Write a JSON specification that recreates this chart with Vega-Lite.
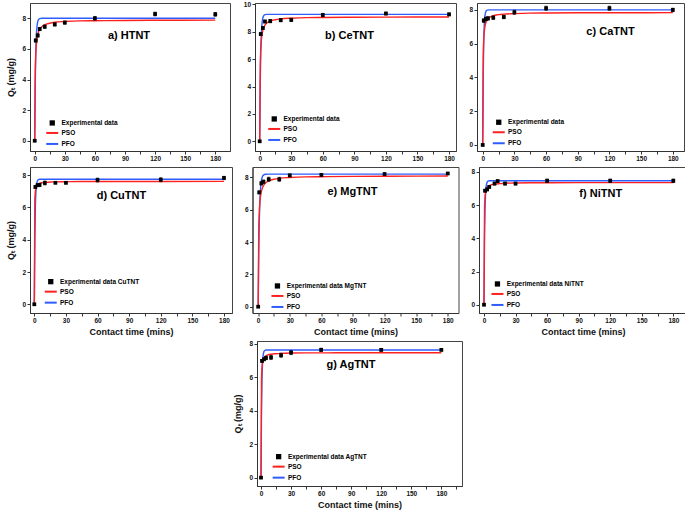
{
 "$schema": "https://vega.github.io/schema/vega-lite/v6.json",
 "background": "white",
 "padding": {"left": 5, "top": 0, "right": 0, "bottom": 0},
 "datasets": {"d": [
  {"p":"a","s":"label","label":"a) HTNT"},{"p":"b","s":"label","label":"b) CeTNT"},{"p":"c","s":"label","label":"c) CaTNT"},{"p":"d","s":"label","label":"d) CuTNT"},{"p":"e","s":"label","label":"e) MgTNT"},{"p":"f","s":"label","label":"f) NiTNT"},{"p":"g","s":"label","label":"g) AgTNT"},
  {"p":"a","s":"Experimental data","t":0,"q":0,"e":0.05},{"p":"a","s":"Experimental data","t":1,"q":6.55,"e":0.1},{"p":"a","s":"Experimental data","t":3,"q":6.88,"e":0.1},{"p":"a","s":"Experimental data","t":5,"q":7.3,"e":0.1},{"p":"a","s":"Experimental data","t":10,"q":7.45,"e":0.1},{"p":"a","s":"Experimental data","t":20,"q":7.6,"e":0.1},{"p":"a","s":"Experimental data","t":30,"q":7.72,"e":0.1},{"p":"a","s":"Experimental data","t":60,"q":8.0,"e":0.12},{"p":"a","s":"Experimental data","t":120,"q":8.28,"e":0.12},{"p":"a","s":"Experimental data","t":180,"q":8.26,"e":0.12},
  {"p":"a","s":"PFO","t":0,"q":0},{"p":"a","s":"PFO","t":0.5,"q":3.61},{"p":"a","s":"PFO","t":1,"q":5.59},{"p":"a","s":"PFO","t":1.5,"q":6.68},{"p":"a","s":"PFO","t":2,"q":7.27},{"p":"a","s":"PFO","t":3,"q":7.78},{"p":"a","s":"PFO","t":4,"q":7.93},{"p":"a","s":"PFO","t":5,"q":7.98},{"p":"a","s":"PFO","t":7,"q":8.0},{"p":"a","s":"PFO","t":10,"q":8.0},{"p":"a","s":"PFO","t":180,"q":8.0},
  {"p":"a","s":"PSO","t":0,"q":0},{"p":"a","s":"PSO","t":0.5,"q":4.28},{"p":"a","s":"PSO","t":1,"q":5.56},{"p":"a","s":"PSO","t":1.5,"q":6.17},{"p":"a","s":"PSO","t":2,"q":6.52},{"p":"a","s":"PSO","t":3,"q":6.93},{"p":"a","s":"PSO","t":4,"q":7.15},{"p":"a","s":"PSO","t":5,"q":7.29},{"p":"a","s":"PSO","t":7,"q":7.45},{"p":"a","s":"PSO","t":10,"q":7.58},{"p":"a","s":"PSO","t":15,"q":7.68},{"p":"a","s":"PSO","t":20,"q":7.74},{"p":"a","s":"PSO","t":30,"q":7.79},{"p":"a","s":"PSO","t":45,"q":7.83},{"p":"a","s":"PSO","t":60,"q":7.84},{"p":"a","s":"PSO","t":90,"q":7.86},{"p":"a","s":"PSO","t":120,"q":7.87},{"p":"a","s":"PSO","t":180,"q":7.88},

  {"p":"b","s":"Experimental data","t":0,"q":0,"e":0.05},{"p":"b","s":"Experimental data","t":1,"q":7.83,"e":0.1},{"p":"b","s":"Experimental data","t":3,"q":8.27,"e":0.1},{"p":"b","s":"Experimental data","t":5,"q":8.75,"e":0.1},{"p":"b","s":"Experimental data","t":10,"q":8.78,"e":0.12},{"p":"b","s":"Experimental data","t":20,"q":8.85,"e":0.12},{"p":"b","s":"Experimental data","t":30,"q":8.87,"e":0.12},{"p":"b","s":"Experimental data","t":60,"q":9.22,"e":0.12},{"p":"b","s":"Experimental data","t":120,"q":9.33,"e":0.1},{"p":"b","s":"Experimental data","t":180,"q":9.27,"e":0.1},
  {"p":"b","s":"PFO","t":0,"q":0},{"p":"b","s":"PFO","t":0.5,"q":4.18},{"p":"b","s":"PFO","t":1,"q":6.48},{"p":"b","s":"PFO","t":1.5,"q":7.74},{"p":"b","s":"PFO","t":2,"q":8.43},{"p":"b","s":"PFO","t":3,"q":9.02},{"p":"b","s":"PFO","t":4,"q":9.19},{"p":"b","s":"PFO","t":5,"q":9.25},{"p":"b","s":"PFO","t":7,"q":9.27},{"p":"b","s":"PFO","t":10,"q":9.27},{"p":"b","s":"PFO","t":180,"q":9.27},
  {"p":"b","s":"PSO","t":0,"q":0},{"p":"b","s":"PSO","t":0.5,"q":5.25},{"p":"b","s":"PSO","t":1,"q":6.66},{"p":"b","s":"PSO","t":1.5,"q":7.31},{"p":"b","s":"PSO","t":2,"q":7.69},{"p":"b","s":"PSO","t":3,"q":8.11},{"p":"b","s":"PSO","t":4,"q":8.34},{"p":"b","s":"PSO","t":5,"q":8.48},{"p":"b","s":"PSO","t":7,"q":8.65},{"p":"b","s":"PSO","t":10,"q":8.78},{"p":"b","s":"PSO","t":15,"q":8.88},{"p":"b","s":"PSO","t":20,"q":8.94},{"p":"b","s":"PSO","t":30,"q":8.99},{"p":"b","s":"PSO","t":45,"q":9.03},{"p":"b","s":"PSO","t":60,"q":9.04},{"p":"b","s":"PSO","t":90,"q":9.06},{"p":"b","s":"PSO","t":120,"q":9.07},{"p":"b","s":"PSO","t":180,"q":9.08},

  {"p":"c","s":"Experimental data","t":0,"q":0,"e":0.05},{"p":"c","s":"Experimental data","t":1,"q":7.37,"e":0.1},{"p":"c","s":"Experimental data","t":3,"q":7.47,"e":0.1},{"p":"c","s":"Experimental data","t":5,"q":7.5,"e":0.1},{"p":"c","s":"Experimental data","t":10,"q":7.54,"e":0.1},{"p":"c","s":"Experimental data","t":20,"q":7.58,"e":0.1},{"p":"c","s":"Experimental data","t":30,"q":7.86,"e":0.12},{"p":"c","s":"Experimental data","t":60,"q":8.1,"e":0.12},{"p":"c","s":"Experimental data","t":120,"q":8.1,"e":0.12},{"p":"c","s":"Experimental data","t":180,"q":8.0,"e":0.1},
  {"p":"c","s":"PFO","t":0,"q":0},{"p":"c","s":"PFO","t":0.5,"q":4.22},{"p":"c","s":"PFO","t":1,"q":6.22},{"p":"c","s":"PFO","t":1.5,"q":7.16},{"p":"c","s":"PFO","t":2,"q":7.6},{"p":"c","s":"PFO","t":3,"q":7.91},{"p":"c","s":"PFO","t":4,"q":7.98},{"p":"c","s":"PFO","t":5,"q":8.0},{"p":"c","s":"PFO","t":7,"q":8.0},{"p":"c","s":"PFO","t":10,"q":8.0},{"p":"c","s":"PFO","t":180,"q":8.0},
  {"p":"c","s":"PSO","t":0,"q":0},{"p":"c","s":"PSO","t":0.5,"q":5.2},{"p":"c","s":"PSO","t":1,"q":6.26},{"p":"c","s":"PSO","t":1.5,"q":6.71},{"p":"c","s":"PSO","t":2,"q":6.96},{"p":"c","s":"PSO","t":3,"q":7.24},{"p":"c","s":"PSO","t":4,"q":7.38},{"p":"c","s":"PSO","t":5,"q":7.47},{"p":"c","s":"PSO","t":7,"q":7.57},{"p":"c","s":"PSO","t":10,"q":7.66},{"p":"c","s":"PSO","t":15,"q":7.72},{"p":"c","s":"PSO","t":20,"q":7.75},{"p":"c","s":"PSO","t":30,"q":7.78},{"p":"c","s":"PSO","t":45,"q":7.81},{"p":"c","s":"PSO","t":60,"q":7.82},{"p":"c","s":"PSO","t":90,"q":7.83},{"p":"c","s":"PSO","t":120,"q":7.83},{"p":"c","s":"PSO","t":180,"q":7.84},

  {"p":"d","s":"Experimental data CuTNT","t":0,"q":0,"e":0.05},{"p":"d","s":"Experimental data CuTNT","t":1,"q":7.27,"e":0.08},{"p":"d","s":"Experimental data CuTNT","t":3,"q":7.38,"e":0.08},{"p":"d","s":"Experimental data CuTNT","t":5,"q":7.4,"e":0.1},{"p":"d","s":"Experimental data CuTNT","t":10,"q":7.52,"e":0.12},{"p":"d","s":"Experimental data CuTNT","t":20,"q":7.53,"e":0.05},{"p":"d","s":"Experimental data CuTNT","t":30,"q":7.53,"e":0.06},{"p":"d","s":"Experimental data CuTNT","t":60,"q":7.7,"e":0.12},{"p":"d","s":"Experimental data CuTNT","t":120,"q":7.72,"e":0.12},{"p":"d","s":"Experimental data CuTNT","t":180,"q":7.83,"e":0.1},
  {"p":"d","s":"PFO","t":0,"q":0},{"p":"d","s":"PFO","t":0.5,"q":4.09},{"p":"d","s":"PFO","t":1,"q":6.02},{"p":"d","s":"PFO","t":1.5,"q":6.93},{"p":"d","s":"PFO","t":2,"q":7.36},{"p":"d","s":"PFO","t":3,"q":7.66},{"p":"d","s":"PFO","t":4,"q":7.73},{"p":"d","s":"PFO","t":5,"q":7.75},{"p":"d","s":"PFO","t":7,"q":7.75},{"p":"d","s":"PFO","t":10,"q":7.75},{"p":"d","s":"PFO","t":180,"q":7.75},
  {"p":"d","s":"PSO","t":0,"q":0},{"p":"d","s":"PSO","t":0.5,"q":6.49},{"p":"d","s":"PSO","t":1,"q":7.01},{"p":"d","s":"PSO","t":1.5,"q":7.2},{"p":"d","s":"PSO","t":2,"q":7.3},{"p":"d","s":"PSO","t":3,"q":7.4},{"p":"d","s":"PSO","t":4,"q":7.46},{"p":"d","s":"PSO","t":5,"q":7.49},{"p":"d","s":"PSO","t":7,"q":7.53},{"p":"d","s":"PSO","t":10,"q":7.55},{"p":"d","s":"PSO","t":15,"q":7.58},{"p":"d","s":"PSO","t":20,"q":7.59},{"p":"d","s":"PSO","t":30,"q":7.6},{"p":"d","s":"PSO","t":45,"q":7.61},{"p":"d","s":"PSO","t":60,"q":7.61},{"p":"d","s":"PSO","t":90,"q":7.61},{"p":"d","s":"PSO","t":120,"q":7.61},{"p":"d","s":"PSO","t":180,"q":7.62},

  {"p":"e","s":"Experimental data MgTNT","t":0,"q":0,"e":0.05},{"p":"e","s":"Experimental data MgTNT","t":1,"q":7.07,"e":0.08},{"p":"e","s":"Experimental data MgTNT","t":3,"q":7.63,"e":0.1},{"p":"e","s":"Experimental data MgTNT","t":5,"q":7.73,"e":0.1},{"p":"e","s":"Experimental data MgTNT","t":10,"q":7.88,"e":0.12},{"p":"e","s":"Experimental data MgTNT","t":20,"q":7.88,"e":0.12},{"p":"e","s":"Experimental data MgTNT","t":30,"q":8.12,"e":0.08},{"p":"e","s":"Experimental data MgTNT","t":60,"q":8.15,"e":0.08},{"p":"e","s":"Experimental data MgTNT","t":120,"q":8.2,"e":0.08},{"p":"e","s":"Experimental data MgTNT","t":180,"q":8.24,"e":0.06},
  {"p":"e","s":"PFO","t":0,"q":0},{"p":"e","s":"PFO","t":0.5,"q":3.23},{"p":"e","s":"PFO","t":1,"q":5.18},{"p":"e","s":"PFO","t":1.5,"q":6.37},{"p":"e","s":"PFO","t":2,"q":7.09},{"p":"e","s":"PFO","t":3,"q":7.79},{"p":"e","s":"PFO","t":4,"q":8.05},{"p":"e","s":"PFO","t":5,"q":8.14},{"p":"e","s":"PFO","t":7,"q":8.19},{"p":"e","s":"PFO","t":10,"q":8.2},{"p":"e","s":"PFO","t":180,"q":8.2},
  {"p":"e","s":"PSO","t":0,"q":0},{"p":"e","s":"PSO","t":0.5,"q":4.44},{"p":"e","s":"PSO","t":1,"q":5.74},{"p":"e","s":"PSO","t":1.5,"q":6.36},{"p":"e","s":"PSO","t":2,"q":6.72},{"p":"e","s":"PSO","t":3,"q":7.12},{"p":"e","s":"PSO","t":4,"q":7.34},{"p":"e","s":"PSO","t":5,"q":7.48},{"p":"e","s":"PSO","t":7,"q":7.65},{"p":"e","s":"PSO","t":10,"q":7.78},{"p":"e","s":"PSO","t":15,"q":7.88},{"p":"e","s":"PSO","t":20,"q":7.94},{"p":"e","s":"PSO","t":30,"q":7.99},{"p":"e","s":"PSO","t":45,"q":8.03},{"p":"e","s":"PSO","t":60,"q":8.04},{"p":"e","s":"PSO","t":90,"q":8.06},{"p":"e","s":"PSO","t":120,"q":8.07},{"p":"e","s":"PSO","t":180,"q":8.08},

  {"p":"f","s":"Experimental data NiTNT","t":0,"q":0,"e":0.05},{"p":"f","s":"Experimental data NiTNT","t":1,"q":6.87,"e":0.08},{"p":"f","s":"Experimental data NiTNT","t":3,"q":6.95,"e":0.08},{"p":"f","s":"Experimental data NiTNT","t":5,"q":7.1,"e":0.08},{"p":"f","s":"Experimental data NiTNT","t":10,"q":7.3,"e":0.08},{"p":"f","s":"Experimental data NiTNT","t":13,"q":7.45,"e":0.08},{"p":"f","s":"Experimental data NiTNT","t":20,"q":7.3,"e":0.08},{"p":"f","s":"Experimental data NiTNT","t":30,"q":7.3,"e":0.08},{"p":"f","s":"Experimental data NiTNT","t":60,"q":7.47,"e":0.1},{"p":"f","s":"Experimental data NiTNT","t":120,"q":7.47,"e":0.1},{"p":"f","s":"Experimental data NiTNT","t":180,"q":7.47,"e":0.1},
  {"p":"f","s":"PFO","t":0,"q":0},{"p":"f","s":"PFO","t":0.5,"q":3.94},{"p":"f","s":"PFO","t":1,"q":5.8},{"p":"f","s":"PFO","t":1.5,"q":6.68},{"p":"f","s":"PFO","t":2,"q":7.1},{"p":"f","s":"PFO","t":3,"q":7.39},{"p":"f","s":"PFO","t":4,"q":7.45},{"p":"f","s":"PFO","t":5,"q":7.47},{"p":"f","s":"PFO","t":7,"q":7.47},{"p":"f","s":"PFO","t":10,"q":7.47},{"p":"f","s":"PFO","t":180,"q":7.47},
  {"p":"f","s":"PSO","t":0,"q":0},{"p":"f","s":"PSO","t":0.5,"q":5.8},{"p":"f","s":"PSO","t":1,"q":6.49},{"p":"f","s":"PSO","t":1.5,"q":6.76},{"p":"f","s":"PSO","t":2,"q":6.9},{"p":"f","s":"PSO","t":3,"q":7.05},{"p":"f","s":"PSO","t":4,"q":7.13},{"p":"f","s":"PSO","t":5,"q":7.18},{"p":"f","s":"PSO","t":7,"q":7.23},{"p":"f","s":"PSO","t":10,"q":7.27},{"p":"f","s":"PSO","t":15,"q":7.3},{"p":"f","s":"PSO","t":20,"q":7.32},{"p":"f","s":"PSO","t":30,"q":7.34},{"p":"f","s":"PSO","t":45,"q":7.35},{"p":"f","s":"PSO","t":60,"q":7.35},{"p":"f","s":"PSO","t":90,"q":7.36},{"p":"f","s":"PSO","t":120,"q":7.36},{"p":"f","s":"PSO","t":180,"q":7.36},

  {"p":"g","s":"Experimental data AgTNT","t":0,"q":0,"e":0.05},{"p":"g","s":"Experimental data AgTNT","t":1,"q":6.97,"e":0.08},{"p":"g","s":"Experimental data AgTNT","t":3,"q":7.07,"e":0.08},{"p":"g","s":"Experimental data AgTNT","t":5,"q":7.15,"e":0.1},{"p":"g","s":"Experimental data AgTNT","t":10,"q":7.18,"e":0.12},{"p":"g","s":"Experimental data AgTNT","t":20,"q":7.31,"e":0.12},{"p":"g","s":"Experimental data AgTNT","t":30,"q":7.47,"e":0.12},{"p":"g","s":"Experimental data AgTNT","t":60,"q":7.63,"e":0.1},{"p":"g","s":"Experimental data AgTNT","t":120,"q":7.63,"e":0.08},{"p":"g","s":"Experimental data AgTNT","t":180,"q":7.63,"e":0.06},
  {"p":"g","s":"PFO","t":0,"q":0},{"p":"g","s":"PFO","t":0.5,"q":4.02},{"p":"g","s":"PFO","t":1,"q":5.92},{"p":"g","s":"PFO","t":1.5,"q":6.82},{"p":"g","s":"PFO","t":2,"q":7.24},{"p":"g","s":"PFO","t":3,"q":7.54},{"p":"g","s":"PFO","t":4,"q":7.6},{"p":"g","s":"PFO","t":5,"q":7.62},{"p":"g","s":"PFO","t":7,"q":7.62},{"p":"g","s":"PFO","t":10,"q":7.62},{"p":"g","s":"PFO","t":180,"q":7.62},
  {"p":"g","s":"PSO","t":0,"q":0},{"p":"g","s":"PSO","t":0.5,"q":5.89},{"p":"g","s":"PSO","t":1,"q":6.59},{"p":"g","s":"PSO","t":1.5,"q":6.86},{"p":"g","s":"PSO","t":2,"q":7.0},{"p":"g","s":"PSO","t":3,"q":7.15},{"p":"g","s":"PSO","t":4,"q":7.23},{"p":"g","s":"PSO","t":5,"q":7.28},{"p":"g","s":"PSO","t":7,"q":7.33},{"p":"g","s":"PSO","t":10,"q":7.37},{"p":"g","s":"PSO","t":15,"q":7.4},{"p":"g","s":"PSO","t":20,"q":7.42},{"p":"g","s":"PSO","t":30,"q":7.44},{"p":"g","s":"PSO","t":45,"q":7.45},{"p":"g","s":"PSO","t":60,"q":7.45},{"p":"g","s":"PSO","t":90,"q":7.46},{"p":"g","s":"PSO","t":120,"q":7.46},{"p":"g","s":"PSO","t":180,"q":7.46}
 ]},
 "spacing": 3,
 "resolve": {"scale": {"color": "independent"}, "legend": {"color": "independent"}},
 "vconcat": [
  {"hconcat": [
   {"width": 200, "height": 148, "data": {"name": "d"},
    "layer": [
     {"encoding": {
       "x": {"field": "t", "type": "quantitative", "scale": {"domain": [-4.7, 194.7], "nice": false, "zero": false}, "axis": {"values": [0,15,30,45,60,75,90,105,120,135,150,165,180], "title": null}},
       "y": {"field": "q", "type": "quantitative", "scale": {"domain": [-0.67, 9.0], "nice": false, "zero": false}, "axis": {"values": [0,2,4,6,8], "title": "Qₜ (mg/g)", "minExtent": 12, "maxExtent": 12}}},
      "layer": [
       {"transform": [{"filter": "datum.p=='a' && (datum.s=='PSO' || datum.s=='PFO')"}],
        "mark": {"type": "line", "strokeWidth": 1.4, "interpolate": "monotone", "clip": true},
        "encoding": {"color": {"field": "s", "type": "nominal", "scale": {"domain": ["Experimental data","PSO","PFO"], "range": ["#000000","#ff2020","#2f5cff"]},
          "legend": {"orient": "none", "legendX": 19, "legendY": 116.7, "title": null, "encode": {"symbols": {"update": {"shape": {"signal": "datum.value=='PSO'||datum.value=='PFO' ? 'stroke' : 'square'"}, "size": {"signal": "datum.value=='PSO'||datum.value=='PFO' ? 144 : 28"}, "fill": {"signal": "datum.value=='PSO'||datum.value=='PFO' ? 'transparent' : '#000'"}, "stroke": {"signal": "datum.value=='PSO' ? '#ff2020' : datum.value=='PFO' ? '#2f5cff' : '#000'"}, "strokeWidth": {"signal": "datum.value=='PSO'||datum.value=='PFO' ? 2 : 0"}, "opacity": {"value": 1}}}}}}}},
       {"transform": [{"filter": "datum.p=='a' && indexof(datum.s,'Experimental')==0"}],
        "mark": {"type": "errorbar", "color": "#000", "ticks": {"size": 3}},
        "encoding": {"yError": {"field": "e"}}},
       {"transform": [{"filter": "datum.p=='a' && indexof(datum.s,'Experimental')==0"}],
        "mark": {"type": "point", "shape": "square", "filled": true, "size": 14, "opacity": 1},
        "encoding": {"color": {"field": "s", "type": "nominal"}}}
      ]},
     {"transform": [{"filter": "datum.p=='a' && datum.s=='label'"}],
      "mark": {"type": "text", "fontSize": 11, "fontWeight": "bold", "color": "#000"},
      "encoding": {"text": {"field": "label"},
       "x": {"datum": 94, "type": "quantitative", "scale": {"domain": [-4.7, 194.7], "nice": false, "zero": false}, "axis": {"values": [0,15,30,45,60,75,90,105,120,135,150,165,180], "title": null}},
       "y": {"datum": 6.84, "type": "quantitative", "scale": {"domain": [-0.67, 9.0], "nice": false, "zero": false}, "axis": {"values": [0,2,4,6,8], "title": "Qₜ (mg/g)", "minExtent": 12, "maxExtent": 12}}}}
    ]},
   {"width": 201, "height": 148, "data": {"name": "d"},
    "layer": [
     {"encoding": {
       "x": {"field": "t", "type": "quantitative", "scale": {"domain": [-4.47, 186.6], "nice": false, "zero": false}, "axis": {"values": [0,15,30,45,60,75,90,105,120,135,150,165,180], "title": null}},
       "y": {"field": "q", "type": "quantitative", "scale": {"domain": [-0.71, 10.1], "nice": false, "zero": false}, "axis": {"values": [0,2,4,6,8,10], "title": null}}},
      "layer": [
       {"transform": [{"filter": "datum.p=='b' && (datum.s=='PSO' || datum.s=='PFO')"}],
        "mark": {"type": "line", "strokeWidth": 1.4, "interpolate": "monotone", "clip": true},
        "encoding": {"color": {"field": "s", "type": "nominal", "scale": {"domain": ["Experimental data","PSO","PFO"], "range": ["#000000","#ff2020","#2f5cff"]},
          "legend": {"orient": "none", "legendX": 16, "legendY": 112.7, "title": null, "encode": {"symbols": {"update": {"shape": {"signal": "datum.value=='PSO'||datum.value=='PFO' ? 'stroke' : 'square'"}, "size": {"signal": "datum.value=='PSO'||datum.value=='PFO' ? 144 : 28"}, "fill": {"signal": "datum.value=='PSO'||datum.value=='PFO' ? 'transparent' : '#000'"}, "stroke": {"signal": "datum.value=='PSO' ? '#ff2020' : datum.value=='PFO' ? '#2f5cff' : '#000'"}, "strokeWidth": {"signal": "datum.value=='PSO'||datum.value=='PFO' ? 2 : 0"}, "opacity": {"value": 1}}}}}}}},
       {"transform": [{"filter": "datum.p=='b' && indexof(datum.s,'Experimental')==0"}],
        "mark": {"type": "errorbar", "color": "#000", "ticks": {"size": 3}},
        "encoding": {"yError": {"field": "e"}}},
       {"transform": [{"filter": "datum.p=='b' && indexof(datum.s,'Experimental')==0"}],
        "mark": {"type": "point", "shape": "square", "filled": true, "size": 14, "opacity": 1},
        "encoding": {"color": {"field": "s", "type": "nominal"}}}
      ]},
     {"transform": [{"filter": "datum.p=='b' && datum.s=='label'"}],
      "mark": {"type": "text", "fontSize": 11, "fontWeight": "bold", "color": "#000"},
      "encoding": {"text": {"field": "label"},
       "x": {"datum": 85.4, "type": "quantitative", "scale": {"domain": [-4.47, 186.6], "nice": false, "zero": false}, "axis": {"values": [0,15,30,45,60,75,90,105,120,135,150,165,180], "title": null}},
       "y": {"datum": 7.67, "type": "quantitative", "scale": {"domain": [-0.71, 10.1], "nice": false, "zero": false}, "axis": {"values": [0,2,4,6,8,10], "title": null}}}}
    ]},
   {"width": 207, "height": 148, "data": {"name": "d"},
    "layer": [
     {"encoding": {
       "x": {"field": "t", "type": "quantitative", "scale": {"domain": [-5.4, 190.6], "nice": false, "zero": false}, "axis": {"values": [0,15,30,45,60,75,90,105,120,135,150,165,180], "title": null}},
       "y": {"field": "q", "type": "quantitative", "scale": {"domain": [-0.36, 8.41], "nice": false, "zero": false}, "axis": {"values": [0,2,4,6,8], "title": null}}},
      "layer": [
       {"transform": [{"filter": "datum.p=='c' && (datum.s=='PSO' || datum.s=='PFO')"}],
        "mark": {"type": "line", "strokeWidth": 1.4, "interpolate": "monotone", "clip": true},
        "encoding": {"color": {"field": "s", "type": "nominal", "scale": {"domain": ["Experimental data","PSO","PFO"], "range": ["#000000","#ff2020","#2f5cff"]},
          "legend": {"orient": "none", "legendX": 18.5, "legendY": 116, "title": null, "encode": {"symbols": {"update": {"shape": {"signal": "datum.value=='PSO'||datum.value=='PFO' ? 'stroke' : 'square'"}, "size": {"signal": "datum.value=='PSO'||datum.value=='PFO' ? 144 : 28"}, "fill": {"signal": "datum.value=='PSO'||datum.value=='PFO' ? 'transparent' : '#000'"}, "stroke": {"signal": "datum.value=='PSO' ? '#ff2020' : datum.value=='PFO' ? '#2f5cff' : '#000'"}, "strokeWidth": {"signal": "datum.value=='PSO'||datum.value=='PFO' ? 2 : 0"}, "opacity": {"value": 1}}}}}}}},
       {"transform": [{"filter": "datum.p=='c' && indexof(datum.s,'Experimental')==0"}],
        "mark": {"type": "errorbar", "color": "#000", "ticks": {"size": 3}},
        "encoding": {"yError": {"field": "e"}}},
       {"transform": [{"filter": "datum.p=='c' && indexof(datum.s,'Experimental')==0"}],
        "mark": {"type": "point", "shape": "square", "filled": true, "size": 14, "opacity": 1},
        "encoding": {"color": {"field": "s", "type": "nominal"}}}
      ]},
     {"transform": [{"filter": "datum.p=='c' && datum.s=='label'"}],
      "mark": {"type": "text", "fontSize": 11, "fontWeight": "bold", "color": "#000"},
      "encoding": {"text": {"field": "label"},
       "x": {"datum": 121, "type": "quantitative", "scale": {"domain": [-5.4, 190.6], "nice": false, "zero": false}, "axis": {"values": [0,15,30,45,60,75,90,105,120,135,150,165,180], "title": null}},
       "y": {"datum": 6.71, "type": "quantitative", "scale": {"domain": [-0.36, 8.41], "nice": false, "zero": false}, "axis": {"values": [0,2,4,6,8], "title": null}}}}
    ]}
  ], "spacing": 11, "resolve": {"scale": {"color": "independent"}, "legend": {"color": "independent"}}},
  {"hconcat": [
    {"width": 202, "height": 146, "data": {"name": "d"},
     "layer": [
      {"encoding": {
        "x": {"field": "t", "type": "quantitative", "scale": {"domain": [-4.1, 187.6], "nice": false, "zero": false}, "axis": {"values": [0,15,30,45,60,75,90,105,120,135,150,165,180], "title": "Contact time (mins)"}},
        "y": {"field": "q", "type": "quantitative", "scale": {"domain": [-0.54, 8.51], "nice": false, "zero": false}, "axis": {"values": [0,2,4,6,8], "title": "Qₜ (mg/g)", "minExtent": 12, "maxExtent": 12}}},
       "layer": [
        {"transform": [{"filter": "datum.p=='d' && (datum.s=='PSO' || datum.s=='PFO')"}],
         "mark": {"type": "line", "strokeWidth": 1.4, "interpolate": "monotone", "clip": true},
         "encoding": {"color": {"field": "s", "type": "nominal", "scale": {"domain": ["Experimental data CuTNT","PSO","PFO"], "range": ["#000000","#ff2020","#2f5cff"]},
           "legend": {"orient": "none", "legendX": 17.5, "legendY": 111.4, "title": null, "encode": {"symbols": {"update": {"shape": {"signal": "datum.value=='PSO'||datum.value=='PFO' ? 'stroke' : 'square'"}, "size": {"signal": "datum.value=='PSO'||datum.value=='PFO' ? 144 : 28"}, "fill": {"signal": "datum.value=='PSO'||datum.value=='PFO' ? 'transparent' : '#000'"}, "stroke": {"signal": "datum.value=='PSO' ? '#ff2020' : datum.value=='PFO' ? '#2f5cff' : '#000'"}, "strokeWidth": {"signal": "datum.value=='PSO'||datum.value=='PFO' ? 2 : 0"}, "opacity": {"value": 1}}}}}}}},
        {"transform": [{"filter": "datum.p=='d' && indexof(datum.s,'Experimental')==0"}],
         "mark": {"type": "errorbar", "color": "#000", "ticks": {"size": 3}},
         "encoding": {"yError": {"field": "e"}}},
        {"transform": [{"filter": "datum.p=='d' && indexof(datum.s,'Experimental')==0"}],
         "mark": {"type": "point", "shape": "square", "filled": true, "size": 14, "opacity": 1},
         "encoding": {"color": {"field": "s", "type": "nominal"}}}
       ]},
      {"transform": [{"filter": "datum.p=='d' && datum.s=='label'"}],
       "mark": {"type": "text", "fontSize": 11, "fontWeight": "bold", "color": "#000"},
       "encoding": {"text": {"field": "label"},
        "x": {"datum": 82.7, "type": "quantitative", "scale": {"domain": [-4.1, 187.6], "nice": false, "zero": false}, "axis": {"values": [0,15,30,45,60,75,90,105,120,135,150,165,180], "title": "Contact time (mins)"}},
        "y": {"datum": 6.72, "type": "quantitative", "scale": {"domain": [-0.54, 8.51], "nice": false, "zero": false}, "axis": {"values": [0,2,4,6,8], "title": "Qₜ (mg/g)", "minExtent": 12, "maxExtent": 12}}}}
     ]},
    {"width": 206, "height": 146, "data": {"name": "d"},
     "layer": [
      {"encoding": {
        "x": {"field": "t", "type": "quantitative", "scale": {"domain": [-5.4, 190.2], "nice": false, "zero": false}, "axis": {"values": [0,15,30,45,60,75,90,105,120,135,150,165,180], "title": "Contact time (mins)"}},
        "y": {"field": "q", "type": "quantitative", "scale": {"domain": [-0.39, 8.64], "nice": false, "zero": false}, "axis": {"values": [0,2,4,6,8], "title": null}}},
       "layer": [
        {"transform": [{"filter": "datum.p=='e' && (datum.s=='PSO' || datum.s=='PFO')"}],
         "mark": {"type": "line", "strokeWidth": 1.4, "interpolate": "monotone", "clip": true},
         "encoding": {"color": {"field": "s", "type": "nominal", "scale": {"domain": ["Experimental data MgTNT","PSO","PFO"], "range": ["#000000","#ff2020","#2f5cff"]},
           "legend": {"orient": "none", "legendX": 21.7, "legendY": 115.7, "title": null, "encode": {"symbols": {"update": {"shape": {"signal": "datum.value=='PSO'||datum.value=='PFO' ? 'stroke' : 'square'"}, "size": {"signal": "datum.value=='PSO'||datum.value=='PFO' ? 144 : 28"}, "fill": {"signal": "datum.value=='PSO'||datum.value=='PFO' ? 'transparent' : '#000'"}, "stroke": {"signal": "datum.value=='PSO' ? '#ff2020' : datum.value=='PFO' ? '#2f5cff' : '#000'"}, "strokeWidth": {"signal": "datum.value=='PSO'||datum.value=='PFO' ? 2 : 0"}, "opacity": {"value": 1}}}}}}}},
        {"transform": [{"filter": "datum.p=='e' && indexof(datum.s,'Experimental')==0"}],
         "mark": {"type": "errorbar", "color": "#000", "ticks": {"size": 3}},
         "encoding": {"yError": {"field": "e"}}},
        {"transform": [{"filter": "datum.p=='e' && indexof(datum.s,'Experimental')==0"}],
         "mark": {"type": "point", "shape": "square", "filled": true, "size": 14, "opacity": 1},
         "encoding": {"color": {"field": "s", "type": "nominal"}}}
       ]},
      {"transform": [{"filter": "datum.p=='e' && datum.s=='label'"}],
       "mark": {"type": "text", "fontSize": 11, "fontWeight": "bold", "color": "#000"},
       "encoding": {"text": {"field": "label"},
        "x": {"datum": 89.5, "type": "quantitative", "scale": {"domain": [-5.4, 190.2], "nice": false, "zero": false}, "axis": {"values": [0,15,30,45,60,75,90,105,120,135,150,165,180], "title": "Contact time (mins)"}},
        "y": {"datum": 7.07, "type": "quantitative", "scale": {"domain": [-0.39, 8.64], "nice": false, "zero": false}, "axis": {"values": [0,2,4,6,8], "title": null}}}}
     ]},
    {"width": 208, "height": 146, "data": {"name": "d"},
     "layer": [
      {"encoding": {
        "x": {"field": "t", "type": "quantitative", "scale": {"domain": [-4.75, 193], "nice": false, "zero": false}, "axis": {"values": [0,15,30,45,60,75,90,105,120,135,150,165,180], "title": "Contact time (mins)"}},
        "y": {"field": "q", "type": "quantitative", "scale": {"domain": [-0.5, 8.3], "nice": false, "zero": false}, "axis": {"values": [0,2,4,6,8], "title": null}}},
       "layer": [
        {"transform": [{"filter": "datum.p=='f' && (datum.s=='PSO' || datum.s=='PFO')"}],
         "mark": {"type": "line", "strokeWidth": 1.4, "interpolate": "monotone", "clip": true},
         "encoding": {"color": {"field": "s", "type": "nominal", "scale": {"domain": ["Experimental data NiTNT","PSO","PFO"], "range": ["#000000","#ff2020","#2f5cff"]},
           "legend": {"orient": "none", "legendX": 15.2, "legendY": 113.7, "title": null, "encode": {"symbols": {"update": {"shape": {"signal": "datum.value=='PSO'||datum.value=='PFO' ? 'stroke' : 'square'"}, "size": {"signal": "datum.value=='PSO'||datum.value=='PFO' ? 144 : 28"}, "fill": {"signal": "datum.value=='PSO'||datum.value=='PFO' ? 'transparent' : '#000'"}, "stroke": {"signal": "datum.value=='PSO' ? '#ff2020' : datum.value=='PFO' ? '#2f5cff' : '#000'"}, "strokeWidth": {"signal": "datum.value=='PSO'||datum.value=='PFO' ? 2 : 0"}, "opacity": {"value": 1}}}}}}}},
        {"transform": [{"filter": "datum.p=='f' && indexof(datum.s,'Experimental')==0"}],
         "mark": {"type": "errorbar", "color": "#000", "ticks": {"size": 3}},
         "encoding": {"yError": {"field": "e"}}},
        {"transform": [{"filter": "datum.p=='f' && indexof(datum.s,'Experimental')==0"}],
         "mark": {"type": "point", "shape": "square", "filled": true, "size": 14, "opacity": 1},
         "encoding": {"color": {"field": "s", "type": "nominal"}}}
       ]},
      {"transform": [{"filter": "datum.p=='f' && datum.s=='label'"}],
       "mark": {"type": "text", "fontSize": 11, "fontWeight": "bold", "color": "#000"},
       "encoding": {"text": {"field": "label"},
        "x": {"datum": 111, "type": "quantitative", "scale": {"domain": [-4.75, 193], "nice": false, "zero": false}, "axis": {"values": [0,15,30,45,60,75,90,105,120,135,150,165,180], "title": "Contact time (mins)"}},
        "y": {"datum": 6.65, "type": "quantitative", "scale": {"domain": [-0.5, 8.3], "nice": false, "zero": false}, "axis": {"values": [0,2,4,6,8], "title": null}}}}
     ]}
  ], "spacing": 10.5, "resolve": {"scale": {"color": "independent"}, "legend": {"color": "independent"}}},
  {"hconcat": [
   {"width": 193, "height": 10, "data": {"values": []}, "mark": "point", "view": {"stroke": null}},
   {"width": 205, "height": 145, "data": {"name": "d"},
    "layer": [
     {"encoding": {
       "x": {"field": "t", "type": "quantitative", "scale": {"domain": [-4, 200.6], "nice": false, "zero": false}, "axis": {"values": [0,15,30,45,60,75,90,105,120,135,150,165,180,195], "title": "Contact time (mins)"}},
       "y": {"field": "q", "type": "quantitative", "scale": {"domain": [-0.5, 8.16], "nice": false, "zero": false}, "axis": {"values": [0,2,4,6,8], "title": "Qₜ (mg/g)", "minExtent": 12, "maxExtent": 12}}},
      "layer": [
       {"transform": [{"filter": "datum.p=='g' && (datum.s=='PSO' || datum.s=='PFO')"}],
        "mark": {"type": "line", "strokeWidth": 1.4, "interpolate": "monotone", "clip": true},
        "encoding": {"color": {"field": "s", "type": "nominal", "scale": {"domain": ["Experimental data AgTNT","PSO","PFO"], "range": ["#000000","#ff2020","#2f5cff"]},
          "legend": {"orient": "none", "legendX": 18.4, "legendY": 112.4, "title": null, "encode": {"symbols": {"update": {"shape": {"signal": "datum.value=='PSO'||datum.value=='PFO' ? 'stroke' : 'square'"}, "size": {"signal": "datum.value=='PSO'||datum.value=='PFO' ? 144 : 28"}, "fill": {"signal": "datum.value=='PSO'||datum.value=='PFO' ? 'transparent' : '#000'"}, "stroke": {"signal": "datum.value=='PSO' ? '#ff2020' : datum.value=='PFO' ? '#2f5cff' : '#000'"}, "strokeWidth": {"signal": "datum.value=='PSO'||datum.value=='PFO' ? 2 : 0"}, "opacity": {"value": 1}}}}}}}},
       {"transform": [{"filter": "datum.p=='g' && indexof(datum.s,'Experimental')==0"}],
        "mark": {"type": "errorbar", "color": "#000", "ticks": {"size": 3}},
        "encoding": {"yError": {"field": "e"}}},
       {"transform": [{"filter": "datum.p=='g' && indexof(datum.s,'Experimental')==0"}],
        "mark": {"type": "point", "shape": "square", "filled": true, "size": 14, "opacity": 1},
        "encoding": {"color": {"field": "s", "type": "nominal"}}}
      ]},
     {"transform": [{"filter": "datum.p=='g' && datum.s=='label'"}],
      "mark": {"type": "text", "fontSize": 11, "fontWeight": "bold", "color": "#000"},
      "encoding": {"text": {"field": "label"},
       "x": {"datum": 89.8, "type": "quantitative", "scale": {"domain": [-4, 200.6], "nice": false, "zero": false}, "axis": {"values": [0,15,30,45,60,75,90,105,120,135,150,165,180,195], "title": "Contact time (mins)"}},
       "y": {"datum": 6.73, "type": "quantitative", "scale": {"domain": [-0.5, 8.16], "nice": false, "zero": false}, "axis": {"values": [0,2,4,6,8], "title": "Qₜ (mg/g)", "minExtent": 12, "maxExtent": 12}}}}
    ]}
  ], "spacing": 9, "resolve": {"scale": {"color": "independent"}, "legend": {"color": "independent"}}}
 ],
 "config": {
  "font": "Liberation Sans",
  "view": {"stroke": "#444", "strokeWidth": 1},
  "axis": {"grid": false, "labelFontSize": 6.5, "labelFontWeight": "bold", "labelColor": "#111", "tickSize": 3, "tickColor": "#333", "domainColor": "#333", "labelPadding": 1.5, "titleFontSize": 9, "titleFontWeight": "bold", "titleColor": "#111", "titlePadding": 3},
  "axisX": {"labelExpr": "datum.value % 30 == 0 ? datum.label : ''"},
  "legend": {"labelFontSize": 6.5, "labelFontWeight": "bold", "labelColor": "#000", "symbolSize": 36, "rowPadding": 2, "padding": 0, "labelOffset": 6}
 }
}
